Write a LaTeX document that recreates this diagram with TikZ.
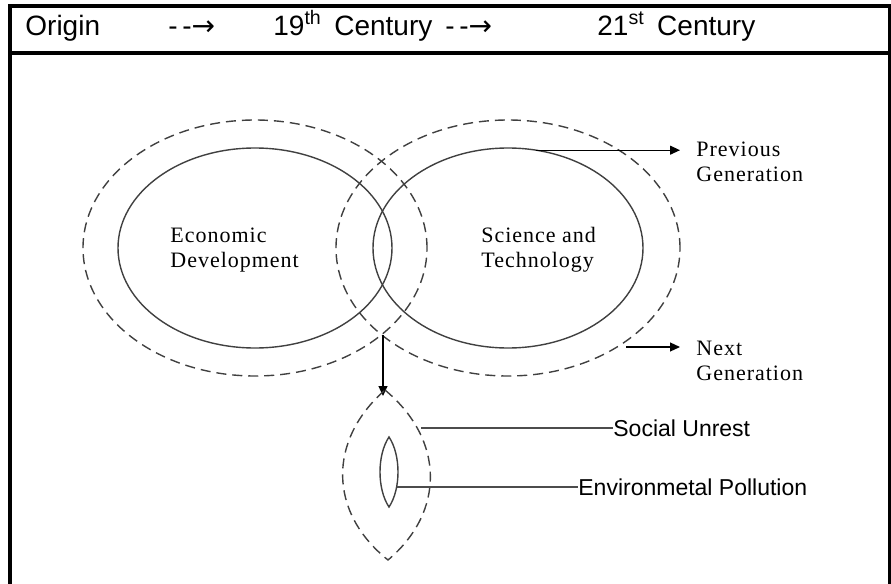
\documentclass[tikz,border=0pt]{standalone}
\usepackage{fontspec}
\setmainfont{Liberation Sans}
\newfontfamily\bookface{Liberation Serif}[LetterSpace=4.5]
\newfontfamily\symface{DejaVu Sans}
\usetikzlibrary{shapes.geometric,arrows.meta}

\begin{document}
\begin{tikzpicture}[x=0.5pt,y=-0.5pt,
      frame/.style={line width=2pt},
      stroke/.style={draw=black!75,line width=0.7pt},
      dashstroke/.style={stroke,dash pattern=on 5pt off 3pt},
      ring/.style={ellipse,stroke,inner sep=0pt,outer sep=0pt},
      halo/.style={ring,dashstroke},
      head/.style={anchor=base west,inner sep=0pt,font=\fontsize{14}{16}\selectfont},
      serif/.style={anchor=base west,inner sep=0pt,align=left,font=\bookface\fontsize{11}{12.5}\selectfont},
      sans/.style={anchor=west,inner sep=0pt,font=\fontsize{11.5}{13}\selectfont},
      lead/.style={draw=black!70,line width=0.6pt},
      tip/.style={-{Triangle[length=5pt,width=4.5pt]},line width=0.6pt}]
    \useasboundingbox (0,0) rectangle (891,584);
    % frame and header row
    \draw[frame] (10,584) -- (10,6) -- (890,6) -- (890,584);
    \draw[frame] (10,53) -- (890,53);
    \node[head] (orig) at (25,35) {Origin};
    \node[head] (go1) at (168,35) {-\,-{\symface→}};
    \node[head] (c19) at (273,35) {19\textsuperscript{th}\, Century};
    \node[head] (go2) at (445,35) {-\,-{\symface→}};
    \node[head] (c21) at (597,35) {21\textsuperscript{st}\, Century};
    % the two circles
    \node[halo,minimum width=172pt,minimum height=128pt] (ed) at (255,248) {};
    \node[halo,minimum width=172pt,minimum height=128pt] (sd) at (508,248) {};
    \node[ring,minimum width=137pt,minimum height=100pt] (ec) at (255,248) {};
    \node[ring,minimum width=135pt,minimum height=100pt] (st) at (508,248) {};
    \node[serif] (ectext) at (170,267) {Economic\\Development};
    \node[serif] (sttext) at (481,267) {Science and\\Technology};
    % generations
    \node[serif] (prev) at (696,181) {Previous\\Generation};
    \node[serif] (next) at (696,380) {Next\\Generation};
    \coordinate (pvend) at (680,149);
    \coordinate (nxstart) at (626,347);
    \coordinate (nxend) at (680,347);
    \draw[tip] (st.74) -- (st.74 -| pvend);
    \draw[tip] (nxstart) -- (nxend);
    % what comes out of the overlap
    \coordinate (meet) at (383,335);
    \coordinate (drop) at (383,396);
    \draw[tip] (meet) -- (drop);
    \coordinate (ltop) at (385,390);
    \coordinate (lbot) at (388,560);
    \draw[dashstroke] (ltop) .. controls (445,440) and (445,512) .. (lbot)
        .. controls (328,512) and (328,440) .. cycle;
    \coordinate (ktop) at (389,437);
    \coordinate (kbot) at (389,507);
    \draw[stroke] (ktop) .. controls (401,455) and (401,489) .. (kbot)
        .. controls (377,489) and (377,455) .. cycle;
    \node[sans] (unrest) at (613,428) {Social Unrest};
    \node[sans] (pollu) at (578,487) {Environmetal Pollution};
    \coordinate (ustart) at (421,428);
    \coordinate (pstart) at (397,487);
    \draw[lead] (ustart) -- (unrest.west);
    \draw[lead] (pstart) -- (pollu.west);
  \end{tikzpicture}
\end{document}
